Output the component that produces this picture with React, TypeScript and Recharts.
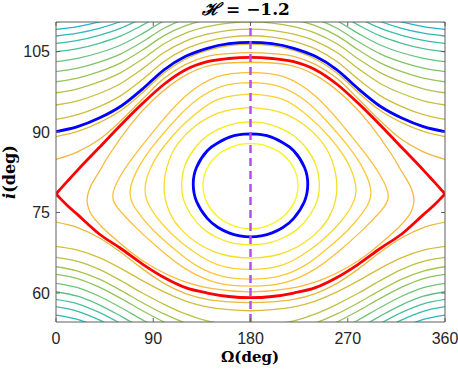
import React from 'react';
import { LineChart, Line, XAxis, YAxis, ReferenceLine } from 'recharts';

// ---- axes ----
const X_TICKS = [0, 90, 180, 270, 360];
const Y_TICKS = [60, 75, 90, 105];
const X_DOMAIN: [number, number] = [0, 360];
const Y_DOMAIN: [number, number] = [54.6, 110.5];

// ---- open contours (half curves, Ω = 0..180, mirrored about 180) ----
const OMEGA_HALF = [0, 20, 40, 60, 80, 100, 120, 140, 160, 180];

const U_110 = [110.5, 111.0, 111.84, 113.0, 114.69, 116.59, 117.91, 118.7, 119.15, 119.3];
const U_109 = [109.14, 109.65, 110.52, 111.72, 113.47, 115.44, 116.8, 117.62, 118.09, 118.24];
const U_108 = [107.89, 108.42, 109.33, 110.59, 112.41, 114.46, 115.89, 116.74, 117.23, 117.39];
const U_106 = [106.53, 107.08, 108.03, 109.34, 111.24, 113.38, 114.87, 115.76, 116.26, 116.43];
const U_105 = [104.96, 105.54, 106.54, 107.91, 109.91, 112.16, 113.72, 114.65, 115.18, 115.36];
const U_103 = [103.1, 103.72, 104.77, 106.22, 108.34, 110.71, 112.36, 113.35, 113.91, 114.1];
const U_101 = [101.24, 101.9, 103.02, 104.56, 106.81, 109.34, 111.09, 112.14, 112.74, 112.94];
const U_99 = [99.37, 100.06, 101.25, 102.89, 105.27, 107.95, 109.81, 110.93, 111.56, 111.77];
const U_97 = [97.32, 98.06, 99.33, 101.07, 103.6, 106.45, 108.43, 109.62, 110.3, 110.52];
const U_95 = [95.03, 95.82, 97.18, 99.05, 101.77, 104.83, 106.95, 108.23, 108.95, 109.19];
const U_92 = [92.37, 93.24, 94.74, 96.79, 99.78, 103.14, 105.48, 106.88, 107.67, 107.94];
const BLUE_UPPER = [90.06, 91.0, 92.6, 94.8, 98.0, 101.6, 104.1, 105.6, 106.45, 106.72];
const U_89 = [89.12, 90.1, 91.75, 94.0, 97.3, 101.0, 103.6, 105.2, 106.1, 106.4];
const U_85 = [84.91, 86.3, 88.6, 92.1, 96.1, 100.0, 102.6, 104.1, 104.6, 104.78];

const D_73 = [73.2, 72.2, 70.3, 67.6, 64.5, 61.8, 59.9, 58.8, 58.35, 58.2];
const D_69 = [68.7, 68.0, 66.6, 64.6, 62.3, 60.2, 58.5, 57.4, 56.9, 56.7];
const D_67 = [66.65, 65.9, 64.4, 62.3, 60.0, 57.9, 56.1, 54.8, 54.2, 54.0];
const D_65 = [64.9, 64.1, 62.6, 60.5, 58.2, 56.1, 54.4, 53.2, 52.6, 52.4];
const D_63 = [63.49, 62.7, 61.1, 59.0, 56.7, 54.6, 52.9, 51.7, 51.1, 50.9];
const D_62 = [61.81, 61.0, 59.4, 57.3, 55.0, 52.9, 51.2, 50.0, 49.4, 49.2];
const D_60 = [60.24, 59.4, 57.8, 55.7, 53.4, 51.3, 49.6, 48.4, 47.8, 47.6];
const D_59 = [58.83, 58.0, 56.4, 54.3, 52.0, 49.9, 48.2, 47.0, 46.4, 46.2];
const D_57 = [57.45, 56.6, 55.0, 52.9, 50.6, 48.5, 46.8, 45.6, 45.0, 44.8];
const D_56 = [55.9, 55.1, 53.5, 51.4, 49.1, 47.0, 45.3, 44.1, 43.5, 43.3];

// ---- separatrix (red) ----
const RED_OMEGA = [0, 5, 10, 20, 40, 60, 80, 100, 120, 140, 160, 180];
const RED_UPPER = [78.45, 79.6, 80.7, 82.9, 87.1, 91.3, 95.3, 98.9, 101.6, 103.1, 103.7, 103.9];
const RED_LOWER = [78.45, 77.4, 76.4, 74.6, 71.0, 68.3, 65.4, 62.9, 61.0, 60.0, 59.35, 59.13];

// ---- closed contours (Ω from left vertex to 180, upper / lower branch) ----
const L1_OMEGA = [28.7, 31, 35, 42, 50, 70, 90, 115, 145, 180];
const L1_UP = [77.3, 79.4, 81.0, 83.3, 86.0, 91.6, 96.0, 100.0, 102.5, 103.0];
const L1_LO = [77.3, 75.3, 74.0, 72.4, 70.9, 67.5, 64.8, 62.4, 60.8, 60.2];
const L2_OMEGA = [52.5, 60, 75, 95, 120, 150, 180];
const L2_UP = [78.0, 81.95, 86.3, 91.3, 96.7, 100.35, 101.1];
const L2_LO = [78.0, 75.15, 72.0, 68.35, 64.5, 61.85, 61.3];
const L3_OMEGA = [68.5, 75, 90, 110, 130, 155, 180];
const L3_UP = [78.6, 82.85, 87.45, 92.15, 95.95, 98.6, 99.2];
const L3_LO = [78.6, 75.3, 71.7, 68.1, 65.1, 63.05, 62.6];
const L4_OMEGA = [82.4, 88, 100, 115, 130, 150, 180];
const L4_UP = [79.2, 83.5, 87.35, 90.8, 93.5, 96.1, 97.1];
const L4_LO = [79.2, 75.65, 72.5, 69.6, 67.35, 65.25, 64.4];
const L5_OMEGA = [100, 105, 115, 130, 145, 160, 180];
const L5_UP = [79.7, 84.9, 88.4, 91.3, 93.1, 94.1, 94.6];
const L5_LO = [79.7, 75.1, 72.0, 69.4, 67.8, 66.9, 66.5];
const L6_OMEGA = [116.3, 120, 130, 140, 150, 160, 170, 180];
const L6_UP = [80.1, 84.1, 87.4, 89.3, 90.5, 91.3, 91.75, 91.9];
const L6_LO = [80.1, 76.35, 73.2, 71.4, 70.25, 69.5, 69.1, 68.95];
const BLUE_LOOP_OMEGA = [127, 130, 140, 150, 160, 170, 180];
const BLUE_LOOP_UP = [80.3, 83.4, 86.5, 88.0, 89.0, 89.5, 89.65];
const BLUE_LOOP_LO = [80.3, 77.1, 73.9, 72.2, 71.2, 70.65, 70.45];
const L8_OMEGA = [136, 140, 150, 160, 170, 180];
const L8_UP = [80.0, 83.3, 85.8, 87.0, 87.7, 87.9];
const L8_LO = [80.0, 76.7, 74.15, 72.9, 72.2, 72.0];

const SYMMETRY_LINE = 180;

type Pt = { x: number; y: number };

const mirrorOpen = (om: number[], vals: number[]): Pt[] => {
  const pts: Pt[] = om.map((o, k) => ({ x: o, y: vals[k] }));
  for (let k = om.length - 2; k >= 0; k--) pts.push({ x: 360 - om[k], y: vals[k] });
  return pts;
};

const loopPts = (om: number[], up: number[], lo: number[]): Pt[] => {
  const n = om.length;
  const pts: Pt[] = [];
  for (let k = n - 1; k >= 0; k--) pts.push({ x: om[k], y: up[k] });
  for (let k = 1; k < n; k++) pts.push({ x: om[k], y: lo[k] });
  for (let k = n - 2; k >= 0; k--) pts.push({ x: 360 - om[k], y: lo[k] });
  for (let k = 1; k < n; k++) pts.push({ x: 360 - om[k], y: up[k] });
  return pts;
};

const OPEN: [number[], string][] = [
  [U_110, '#14b2d4'], [U_109, '#1db6c8'], [U_108, '#2ab9b8'], [U_106, '#3abca6'],
  [U_105, '#4fc092'], [U_103, '#66c27e'], [U_101, '#7fc46a'], [U_99, '#97c458'],
  [U_97, '#afc347'], [U_95, '#c4c03c'], [U_92, '#d2bd39'], [U_89, '#dcbb3a'],
  [U_85, '#ecb83e'],
  [D_73, '#e9b93e'], [D_69, '#d3bd39'], [D_67, '#bdc140'], [D_65, '#a5c44c'],
  [D_63, '#8cc45f'], [D_62, '#72c472'], [D_60, '#5bc286'], [D_59, '#46c099'],
  [D_57, '#35bcac'], [D_56, '#27b8bd'],
];

const LOOPS: [number[], number[], number[], string][] = [
  [L1_OMEGA, L1_UP, L1_LO, '#f9b93d'],
  [L2_OMEGA, L2_UP, L2_LO, '#fcc039'],
  [L3_OMEGA, L3_UP, L3_LO, '#fcc934'],
  [L4_OMEGA, L4_UP, L4_LO, '#fad32d'],
  [L5_OMEGA, L5_UP, L5_LO, '#f7de26'],
  [L6_OMEGA, L6_UP, L6_LO, '#f5e91f'],
  [L8_OMEGA, L8_UP, L8_LO, '#f7f517'],
];

const AXIS_COLOR = '#5f5f5f';
const PLOT_TOP = 22;
const PLOT_RIGHT = 445;
const TICK_LEN = 4;
const X_MARGIN = 11;
const Y_MARGIN = 6;
const TICK_FONT = "'Liberation Sans', Arial, sans-serif";
const LABEL_FONT = "'DejaVu Serif', serif";

const XTick = (props: any) => {
  const { x, y, payload } = props;
  const axisY = y - X_MARGIN;
  return (
    <g>
      <line x1={x} x2={x} y1={axisY} y2={axisY - TICK_LEN} stroke={AXIS_COLOR} />
      <line x1={x} x2={x} y1={PLOT_TOP} y2={PLOT_TOP + TICK_LEN} stroke={AXIS_COLOR} />
      <text x={x} y={y} dy="0.71em" textAnchor="middle" fontSize={16} fontFamily={TICK_FONT} fill="#262626">
        {payload.value}
      </text>
    </g>
  );
};

const YTick = (props: any) => {
  const { x, y, payload } = props;
  const axisX = x + Y_MARGIN;
  return (
    <g>
      <line x1={axisX} x2={axisX + TICK_LEN} y1={y} y2={y} stroke={AXIS_COLOR} />
      <line x1={PLOT_RIGHT} x2={PLOT_RIGHT - TICK_LEN} y1={y} y2={y} stroke={AXIS_COLOR} />
      <text x={x} y={y} dy="0.355em" textAnchor="end" fontSize={16} fontFamily={TICK_FONT} fill="#262626">
        {payload.value}
      </text>
    </g>
  );
};

export default function App() {
  return (
    <div style={{ position: 'absolute', left: 0, top: 0, width: 458, height: 370, background: '#fff' }}>
      <LineChart width={458} height={370} margin={{ top: 22, right: 13, bottom: 0, left: 0 }}>
        <XAxis
          dataKey="x"
          type="number"
          domain={X_DOMAIN}
          ticks={X_TICKS}
          allowDataOverflow
          height={48}
          tickSize={0}
          tickMargin={X_MARGIN}
          tickLine={false}
          axisLine={{ stroke: AXIS_COLOR }}
          tick={<XTick />}
          interval={0}
        />
        <YAxis
          dataKey="y"
          type="number"
          domain={Y_DOMAIN}
          ticks={Y_TICKS}
          allowDataOverflow
          width={56}
          tickSize={0}
          tickMargin={Y_MARGIN}
          tickLine={false}
          axisLine={{ stroke: AXIS_COLOR }}
          tick={<YTick />}
          interval={0}
        />
        {OPEN.map(([vals, color], k) => (
          <Line
            key={'o' + k}
            data={mirrorOpen(OMEGA_HALF, vals)}
            dataKey="y"
            type="monotone"
            stroke={color}
            strokeWidth={1.3}
            dot={false}
            activeDot={false}
            isAnimationActive={false}
          />
        ))}
        {LOOPS.map(([om, up, lo, color], k) => (
          <Line
            key={'l' + k}
            data={loopPts(om, up, lo)}
            dataKey="y"
            type="natural"
            stroke={color}
            strokeWidth={1.3}
            dot={false}
            activeDot={false}
            isAnimationActive={false}
          />
        ))}
        <Line data={mirrorOpen(RED_OMEGA, RED_UPPER)} dataKey="y" type="monotone" stroke="#ff0000" strokeWidth={2.8} dot={false} activeDot={false} isAnimationActive={false} />
        <Line data={mirrorOpen(RED_OMEGA, RED_LOWER)} dataKey="y" type="monotone" stroke="#ff0000" strokeWidth={2.8} dot={false} activeDot={false} isAnimationActive={false} />
        <Line data={mirrorOpen(OMEGA_HALF, BLUE_UPPER)} dataKey="y" type="monotone" stroke="#0000ff" strokeWidth={2.8} dot={false} activeDot={false} isAnimationActive={false} />
        <Line data={loopPts(BLUE_LOOP_OMEGA, BLUE_LOOP_UP, BLUE_LOOP_LO)} dataKey="y" type="natural" stroke="#0000ff" strokeWidth={2.8} dot={false} activeDot={false} isAnimationActive={false} />
        <ReferenceLine x={SYMMETRY_LINE} stroke="#b24ff2" strokeWidth={2.5} strokeDasharray="8 5" />
        <ReferenceLine x={360} stroke={AXIS_COLOR} strokeWidth={1} />
        <ReferenceLine y={110.5} stroke={AXIS_COLOR} strokeWidth={1} />
        <text x={246} y={15} textAnchor="middle" fontSize={17} fontWeight="bold" fontFamily={LABEL_FONT} fill="#000">
          <tspan fontStyle="italic">ℋ</tspan> = −1.2
        </text>
        <text x={250} y={362} textAnchor="middle" fontSize={15} fontWeight="bold" fontFamily={LABEL_FONT} fill="#000">
          Ω(deg)
        </text>
        <text x={15} y={172} transform="rotate(-90, 15, 172)" textAnchor="middle" fontSize={16} fontWeight="bold" fontFamily={LABEL_FONT} fill="#000">
          <tspan fontStyle="italic">i</tspan>(deg)
        </text>
      </LineChart>
    </div>
  );
}
